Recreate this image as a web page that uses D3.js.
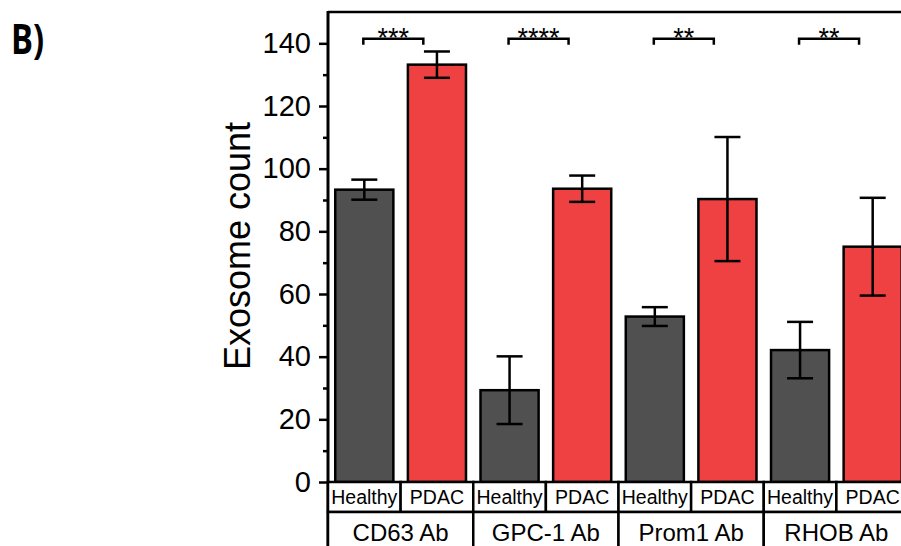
<!DOCTYPE html>
<html>
<head>
<meta charset="utf-8">
<script src="https://cdn.jsdelivr.net/npm/d3@7/dist/d3.min.js"></script>
<style>
  body { margin: 0; background: #fff; }
  svg text { font-family: "Liberation Sans", Arial, sans-serif; }
</style>
</head>
<body>
<div id="chartholder"></div>
<script>
// values
var antibodies = ["CD63 Ab", "GPC-1 Ab", "Prom1 Ab", "RHOB Ab"];
var groups = ["Healthy", "PDAC"];
var healthyMean = [93.3, 29.3, 52.8, 42.1];
var healthyErr = [3.2, 10.8, 3.0, 9.0];
var pdacMean = [133.2, 93.6, 90.3, 75.1];
var pdacErr = [4.2, 4.2, 19.8, 15.6];
var significance = ["***", "****", "**", "**"];
var yTicks = [0, 20, 40, 60, 80, 100, 120, 140];
var yMinorTicks = [10, 30, 50, 70, 90, 110, 130];

var colors = {Healthy: "#505050", PDAC: "#ef4141"};

var width = 901, height = 546;
var plot = {left: 328, right: 909, top: 12, bottom: 482};

var data = [];
antibodies.forEach(function(ab, i) {
    data.push({ab: ab, group: groups[0], mean: healthyMean[i], err: healthyErr[i]});
    data.push({ab: ab, group: groups[1], mean: pdacMean[i], err: pdacErr[i]});
});
function key(d) { return d.ab + "|" + d.group; }

var svg = d3.select("#chartholder").append("svg")
    .attr("width", width)
    .attr("height", height);

var xSlots = d3.scaleBand()
    .domain(data.map(key))
    .range([plot.left, plot.right])
    .padding(0);

var x = d3.scaleBand()
    .domain(data.map(key))
    .range([plot.left, plot.right])
    .paddingInner(0.2)
    .paddingOuter(0.1);

var y = d3.scaleLinear()
    .domain([0, 150])
    .range([plot.bottom, plot.top]);

// bars
svg.append("g").selectAll("rect")
    .data(data)
    .enter().append("rect")
        .attr("x", function(d) { return x(key(d)); })
        .attr("y", function(d) { return y(d.mean); })
        .attr("width", x.bandwidth())
        .attr("height", function(d) { return y(0) - y(d.mean); })
        .style("fill", function(d) { return colors[d.group]; })
        .style("stroke", "#000")
        .style("stroke-width", 2.5);

// error bars
var capW = 13;
var eb = svg.append("g").selectAll("g")
    .data(data)
    .enter().append("g")
        .style("stroke", "#000")
        .style("stroke-width", 2.5);
eb.append("line")
    .attr("x1", function(d) { return x(key(d)) + x.bandwidth() / 2; })
    .attr("x2", function(d) { return x(key(d)) + x.bandwidth() / 2; })
    .attr("y1", function(d) { return y(d.mean + d.err); })
    .attr("y2", function(d) { return y(d.mean - d.err); });
eb.append("line")
    .attr("x1", function(d) { return x(key(d)) + x.bandwidth() / 2 - capW; })
    .attr("x2", function(d) { return x(key(d)) + x.bandwidth() / 2 + capW; })
    .attr("y1", function(d) { return y(d.mean + d.err); })
    .attr("y2", function(d) { return y(d.mean + d.err); });
eb.append("line")
    .attr("x1", function(d) { return x(key(d)) + x.bandwidth() / 2 - capW; })
    .attr("x2", function(d) { return x(key(d)) + x.bandwidth() / 2 + capW; })
    .attr("y1", function(d) { return y(d.mean - d.err); })
    .attr("y2", function(d) { return y(d.mean - d.err); });

// significance brackets
var bracketY = y(141.5);
var sig = svg.append("g").selectAll("g")
    .data(antibodies)
    .enter().append("g");
sig.append("path")
    .attr("d", function(ab) {
        var x0 = x(ab + "|Healthy") + x.bandwidth() / 2 - 1;
        var x1 = x0 + 60;
        return "M" + x0 + "," + (bracketY + 6) + "V" + bracketY + "H" + x1 + "V" + (bracketY + 6);
    })
    .style("fill", "none")
    .style("stroke", "#000")
    .style("stroke-width", 2.5);
sig.append("text")
    .attr("x", function(ab) { return x(ab + "|Healthy") + x.bandwidth() / 2 + 29; })
    .attr("y", bracketY + 8)
    .attr("text-anchor", "middle")
    .style("font-size", "27px")
    .text(function(ab, i) { return significance[i]; });

// top frame line
svg.append("line")
    .attr("x1", plot.left).attr("x2", width)
    .attr("y1", plot.top).attr("y2", plot.top)
    .style("stroke", "#000").style("stroke-width", 2.5);

// y axis
var yAxis = svg.append("g")
    .attr("transform", "translate(" + plot.left + ",0)")
    .call(d3.axisLeft(y).tickValues(yTicks).tickSize(9).tickPadding(8).tickSizeOuter(0));
yAxis.select(".domain").remove();
yAxis.selectAll(".tick line").style("stroke-width", 2.5);
yAxis.selectAll(".tick text")
    .style("font-family", "'Liberation Sans', Arial, sans-serif")
    .style("font-size", "29px").style("fill", "#000");

var yMinor = svg.append("g")
    .attr("transform", "translate(" + plot.left + ",0)")
    .call(d3.axisLeft(y).tickValues(yMinorTicks).tickSize(5).tickFormat("").tickSizeOuter(0));
yMinor.select(".domain").remove();
yMinor.selectAll(".tick line").style("stroke-width", 2.5);

svg.append("line")
    .attr("x1", plot.left).attr("x2", plot.left)
    .attr("y1", plot.top - 1).attr("y2", height)
    .style("stroke", "#000").style("stroke-width", 3);

// category table under the axis
var row1 = {top: plot.bottom, bottom: 512};
var row2 = {top: 512, bottom: 560};

var cells = svg.append("g").selectAll("g")
    .data(data)
    .enter().append("g");
cells.append("rect")
    .attr("x", function(d) { return xSlots(key(d)); })
    .attr("y", row1.top)
    .attr("width", xSlots.bandwidth())
    .attr("height", row1.bottom - row1.top)
    .style("fill", "#fff")
    .style("stroke", "#000")
    .style("stroke-width", 2.5);
cells.append("text")
    .attr("x", function(d) { return xSlots(key(d)) + xSlots.bandwidth() / 2; })
    .attr("y", (row1.top + row1.bottom) / 2 + 7)
    .attr("text-anchor", "middle")
    .style("font-size", "19.5px")
    .text(function(d) { return d.group; });

var abCells = svg.append("g").selectAll("g")
    .data(antibodies)
    .enter().append("g");
abCells.append("rect")
    .attr("x", function(ab) { return xSlots(ab + "|Healthy"); })
    .attr("y", row2.top)
    .attr("width", xSlots.bandwidth() * 2)
    .attr("height", row2.bottom - row2.top)
    .style("fill", "#fff")
    .style("stroke", "#000")
    .style("stroke-width", 2.5);
abCells.append("text")
    .attr("x", function(ab) { return xSlots(ab + "|Healthy") + xSlots.bandwidth(); })
    .attr("y", 541)
    .attr("text-anchor", "middle")
    .style("font-size", "24px")
    .text(function(ab) { return ab; });

// y label
svg.append("text")
    .attr("transform", "translate(250,246) rotate(-90)")
    .attr("text-anchor", "middle")
    .style("font-size", "36px")
    .text("Exosome count");

// panel letter
svg.append("text")
    .attr("transform", "translate(11,54) scale(0.78,1)")
    .style("font-family", "'Open Sans', sans-serif")
    .style("font-weight", "bold")
    .style("font-size", "42px")
    .text("B)");
</script>
</body>
</html>
